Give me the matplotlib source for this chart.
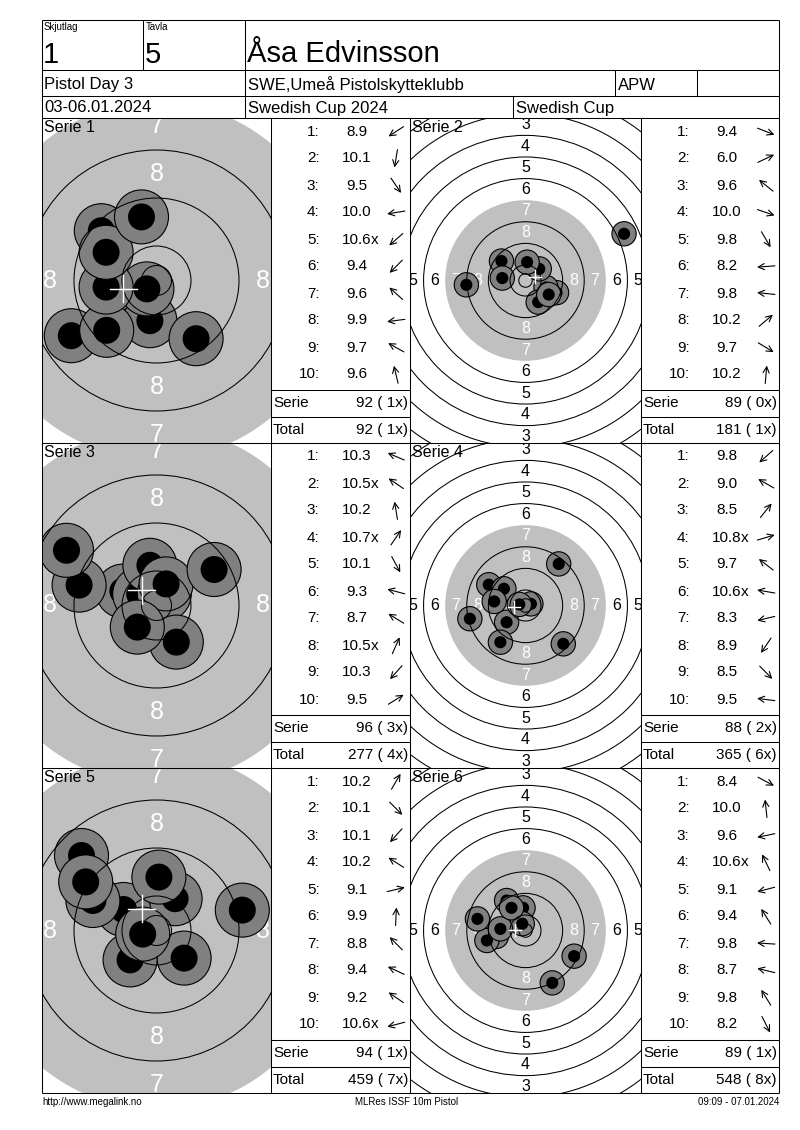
import numpy as np
import matplotlib
matplotlib.use('Agg')
import matplotlib.pyplot as plt
from matplotlib.patches import Circle

plt.rcParams['font.family'] = ['Liberation Sans', 'DejaVu Sans']

W, H = 800, 1130

# header texts
squad = '1'
lane = '5'
shooter = 'Åsa Edvinsson'
event_name = 'Pistol Day 3'
club = 'SWE,Umeå Pistolskytteklubb'
shooter_class = 'APW'
dates = '03-06.01.2024'
competition = 'Swedish Cup 2024'
cup = 'Swedish Cup'
footer_left = 'http://www.megalink.no'
footer_mid = 'MLRes ISSF 10m Pistol'
footer_right = '09:09 - 07.01.2024'

# decimal scores, inner-ten flags and hit positions (mm from centre) per series
scores_1 = [8.9, 10.1, 9.5, 10.0, 10.6, 9.4, 9.6, 9.9, 9.7, 9.6]
inner_1 = [0, 0, 0, 0, 1, 0, 0, 0, 0, 0]
hx_1 = [-14.2, -1.1, 6.6, -8.0, -1.6, -8.3, -9.2, -8.4, -8.4, -2.5]
hy_1 = [-9.2, -6.7, -9.7, -1.3, -1.4, -8.3, 8.3, -1.1, 4.7, 10.6]

scores_2 = [9.4, 6.0, 9.6, 10.0, 9.8, 8.2, 9.8, 10.2, 9.7, 10.2]
inner_2 = [0, 0, 0, 0, 0, 0, 0, 0, 0, 0]
hx_2 = [11.5, 36.5, -8.9, 7.6, 4.7, -21.9, -8.6, 5.1, 8.6, 0.6]
hy_2 = [-4.5, 17.3, 7.2, -2.6, -8.0, -1.6, 0.9, 4.3, -5.2, 6.8]

scores_3 = [10.3, 10.5, 10.2, 10.7, 10.1, 9.3, 8.7, 10.5, 10.3, 9.5]
inner_3 = [0, 1, 0, 1, 0, 0, 0, 1, 0, 0]
hx_3 = [-5.6, -2.8, -1.1, 1.3, 3.3, -12.9, -15.0, 1.6, -3.2, 9.6]
hy_3 = [2.4, 1.9, 6.7, 1.9, -6.1, 3.4, 9.2, 3.6, -3.6, 6.0]

scores_4 = [9.8, 9.0, 8.5, 10.8, 9.7, 10.6, 8.3, 8.9, 8.5, 9.5]
inner_4 = [0, 0, 0, 1, 0, 1, 0, 0, 0, 0]
hx_4 = [-7.0, -13.6, 12.3, 2.0, -8.0, -2.3, -20.6, -9.3, 14.0, -11.6]
hy_4 = [-6.2, 7.7, 15.4, 0.6, 6.2, 0.4, -4.9, -13.6, -14.2, 1.5]

scores_5 = [10.2, 10.1, 10.1, 10.2, 9.1, 9.9, 8.8, 9.4, 9.2, 10.6]
inner_5 = [0, 0, 0, 0, 0, 0, 0, 0, 0, 1]
hx_5 = [3.1, 4.6, -4.4, -5.5, 14.3, 0.4, -12.5, -10.6, -11.8, -2.3]
hy_5 = [5.3, -4.6, -4.9, 3.5, 3.4, 8.9, 12.5, 5.0, 8.1, -0.6]

scores_6 = [8.4, 10.0, 9.6, 10.6, 9.1, 9.4, 9.8, 8.7, 9.8, 8.2]
inner_6 = [0, 0, 0, 1, 0, 0, 0, 0, 0, 0]
hx_6 = [18.0, -0.9, -10.8, -1.2, -14.3, -7.0, -9.3, -17.8, -5.2, 9.9]
hy_6 = [-9.5, 8.4, -2.2, 2.5, -3.7, 11.1, 0.6, 4.3, 8.4, -19.4]

series = [
    (scores_1, inner_1, hx_1, hy_1),
    (scores_2, inner_2, hx_2, hy_2),
    (scores_3, inner_3, hx_3, hy_3),
    (scores_4, inner_4, hx_4, hy_4),
    (scores_5, inner_5, hx_5, hy_5),
    (scores_6, inner_6, hx_6, hy_6),
]

# ISSF 10m air pistol target (mm)
ring_edges = [2.5, 5.75, 13.75, 21.75, 37.75, 45.75, 53.75, 61.75, 69.75, 77.75]
aim_r = 29.75
ring_nums = [1, 2, 3, 4, 5, 6, 7, 8]
ring_mid = [73.75, 65.75, 57.75, 49.75, 41.75, 33.75, 25.75, 17.75]

GRAY = '#c0c0c0'
SHOT = '#808080'

fig = plt.figure(figsize=(W / 100, H / 100), dpi=100)


def px_axes(x0, y0, x1, y1):
    return fig.add_axes([x0 / W, 1 - y1 / H, (x1 - x0) / W, (y1 - y0) / H])


def draw_target(ax, name, hx, hy, scale, wpx, hpx, lab_size):
    hw = wpx / 2 / scale
    hh = hpx / 2 / scale
    ax.set_xlim(-hw, hw)
    ax.set_ylim(-hh, hh)
    ax.axis('off')
    ax.add_patch(Circle((0, 0), aim_r, fc=GRAY, ec='none', zorder=1))
    for n, r in zip(ring_nums, ring_mid):
        col = 'white' if n >= 7 else 'black'
        for dx, dy in ((0, 1), (0, -1), (1, 0), (-1, 0)):
            ax.text(dx * r, dy * r, str(n), color=col, fontsize=lab_size,
                    ha='center', va='center', clip_on=True, zorder=2)
    for i, (x, y) in enumerate(zip(hx, hy)):
        ax.add_patch(Circle((x, y), 4.5, fc=SHOT, ec='black', lw=0.8, zorder=3 + 2 * i))
        ax.add_patch(Circle((x, y), 2.25, fc='black', ec='none', zorder=4 + 2 * i))
    for r in ring_edges:
        ax.add_patch(Circle((0, 0), r, fill=False, ec='black', lw=0.75, zorder=40))
    # mean point of impact
    mx, my = np.mean(hx), np.mean(hy)
    c = 2.25
    ax.plot([mx - c, mx + c], [my, my], color='white', lw=1, zorder=50)
    ax.plot([mx, mx], [my - c, my + c], color='white', lw=1, zorder=50)
    ax.text(-hw + 2 / scale, hh - 2 / scale, name, fontsize=11.5,
            ha='left', va='top', zorder=60)


# overlay axes in pixel units for lines and text
bg = fig.add_axes([0, 0, 1, 1])
bg.set_xlim(0, W)
bg.set_ylim(H, 0)
bg.axis('off')
bg.set_zorder(10)
bg.patch.set_alpha(0)

lw = 0.75
L, R, T, B = 42, 779, 20, 1093


def hline(y, x0, x1):
    bg.plot([x0, x1], [y, y], color='black', lw=lw, solid_capstyle='butt')


def vline(x, y0, y1):
    bg.plot([x, x], [y0, y1], color='black', lw=lw, solid_capstyle='butt')


# frame and header grid
for y in (T, 70, 96, 118, 443, 768, B):
    hline(y, L, R)
vline(L, T, B)
vline(R, T, B)
vline(143, T, 70)
vline(245, T, 118)
vline(615, 70, 96)
vline(697, 70, 96)
vline(513, 96, 118)
for x in (271, 410, 641):
    vline(x, 118, B)

bg.text(44, 22, 'Skjutlag', fontsize=7, ha='left', va='top')
bg.text(146, 22, 'Tavla', fontsize=7, ha='left', va='top')
bg.text(43, 63, squad, fontsize=21, ha='left', va='baseline')
bg.text(145, 63, lane, fontsize=21, ha='left', va='baseline')
bg.text(247, 62, shooter, fontsize=21, ha='left', va='baseline')
bg.text(44, 85, event_name, fontsize=12, ha='left', va='center')
bg.text(248, 85, club, fontsize=12, ha='left', va='center')
bg.text(618, 85, shooter_class, fontsize=12, ha='left', va='center')
bg.text(44, 108, dates, fontsize=12, ha='left', va='center')
bg.text(248, 108, competition, fontsize=12, ha='left', va='center')
bg.text(516, 108, cup, fontsize=12, ha='left', va='center')

bg.text(L, 1102, footer_left, fontsize=7, ha='left', va='center')
bg.text(407, 1102, footer_mid, fontsize=7, ha='center', va='center')
bg.text(R, 1102, footer_right, fontsize=7, ha='right', va='center')

# targets and tables
total = 0
total_x = 0
for k, (sc, inn, hx, hy) in enumerate(series):
    row = k // 2
    y0 = 118 + 325 * row
    if k % 2 == 0:
        tx0, tx1, scale, lab = 42, 271, 6.0, 18
        cx0, cx1 = 271, 410
    else:
        tx0, tx1, scale, lab = 410, 641, 2.7, 11.5
        cx0, cx1 = 641, 779
    ax = px_axes(tx0, y0, tx1, y0 + 325)
    draw_target(ax, 'Serie %d' % (k + 1), hx, hy, scale, tx1 - tx0, 325, lab)

    for i in range(10):
        yc = y0 + 13.5 + 27 * i
        bg.text(cx0 + 48.5, yc, '%d:' % (i + 1), fontsize=11, ha='right', va='center')
        bg.text(cx0 + 85.5, yc, '%.1f' % sc[i], fontsize=11, ha='center', va='center')
        if inn[i]:
            bg.text(cx0 + 99.5, yc, 'x', fontsize=11, ha='left', va='center')
        ang = np.arctan2(hy[i], hx[i])
        ac = cx0 + 125
        dx, dy = 9 * np.cos(ang), -9 * np.sin(ang)
        bg.annotate('', xy=(ac + dx, yc + dy), xytext=(ac - dx, yc - dy),
                    arrowprops=dict(arrowstyle='->', lw=0.8, color='black',
                                    shrinkA=0, shrinkB=0, mutation_scale=11))

    s = int(sum(int(v) for v in sc))
    nx = int(sum(inn))
    total += s
    total_x += nx
    hline(y0 + 272, cx0, cx1)
    hline(y0 + 298.5, cx0, cx1)
    bg.text(cx0 + 2, y0 + 285, 'Serie', fontsize=11, ha='left', va='center')
    bg.text(cx1 - 2, y0 + 285, '%d (%2dx)' % (s, nx), fontsize=11, ha='right', va='center')
    bg.text(cx0 + 2, y0 + 312, 'Total', fontsize=11, ha='left', va='center')
    bg.text(cx1 - 2, y0 + 312, '%d (%2dx)' % (total, total_x), fontsize=11, ha='right', va='center')

fig.savefig('out.png', dpi=100)
